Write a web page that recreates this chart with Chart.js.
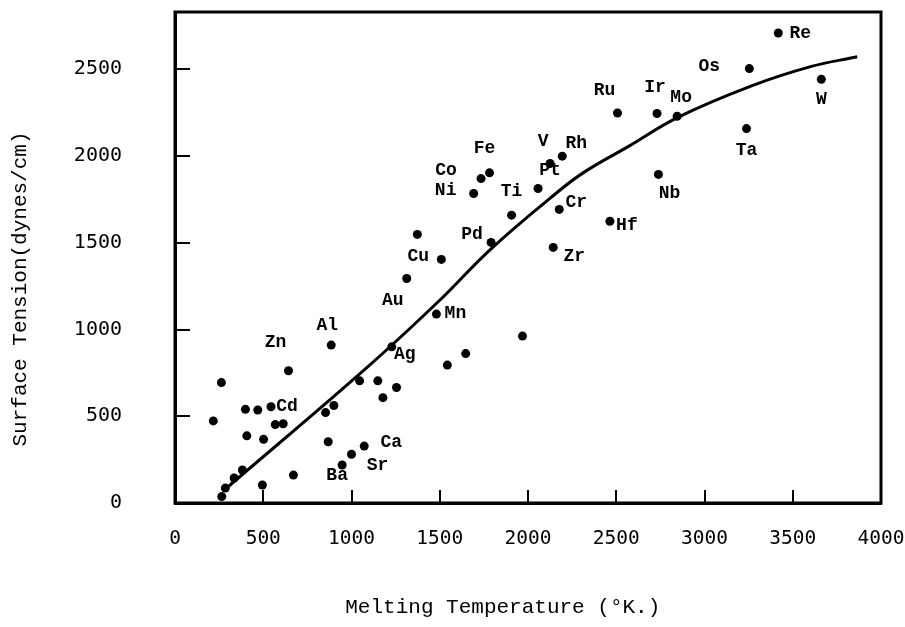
<!DOCTYPE html>
<html>
<head>
<meta charset="utf-8">
<script src="https://cdn.jsdelivr.net/npm/chart.js@4.4.1/dist/chart.umd.min.js"></script>
<style>
  html, body { margin: 0; padding: 0; background: #ffffff; }
  #wrap { width: 905px; height: 627px; position: relative; }
</style>
</head>
<body>
<div id="wrap"><canvas id="chart"></canvas></div>
<script>
// ---- data ----
const elementNames = [
  'Mn','Al','Ag','Zn','','','','Cd','','','','','','','','','','','','','','',
  'Ca','Sr','Ba','','','','','','',
  'Fe','Co','Ni','V','Rh','Pt','Ti','Cr','Hf','Nb','','Pd','Cu','Zr','Au','',
  'Re','Os','W','Ru','Ir','Mo','Ta'
];
const meltingTemps = [
  1481, 885, 1228, 643, 263, 399, 469, 544, 217, 568, 613, 407, 502, 853, 900, 1046, 1149, 1255, 1178, 1543, 1647, 868,
  1072, 1000, 947, 671, 495, 382, 335, 285, 265,
  1782, 1734, 1692, 2125, 2194, 2057, 1907, 2177, 2464, 2739, 1373, 1791, 1509, 2143, 1313, 1969,
  3418, 3254, 3662, 2507, 2731, 2845, 3238
];
const surfaceTensions = [
  1089, 910, 900, 762, 694, 540, 536, 555, 473, 452, 457, 387, 367, 521, 562, 704, 704, 666, 607, 795, 861, 353,
  328, 281, 219, 161, 104, 190, 144, 86, 37,
  1903, 1870, 1784, 1957, 1999, 1813, 1659, 1692, 1624, 1894, 1548, 1502, 1404, 1473, 1294, 962,
  2709, 2504, 2442, 2248, 2245, 2229, 2158
];
const curveTemps    = [292, 1082, 1491, 1794, 2182, 2323, 2567, 2849, 3263, 3601, 3865];
const curveTensions = [ 86,  776, 1160, 1468, 1804, 1910, 2054, 2223, 2403, 2515, 2572];
const xTickValues = [0, 500, 1000, 1500, 2000, 2500, 3000, 3500, 4000];
const yTickValues = [0, 500, 1000, 1500, 2000, 2500];

// ---- label placement (layout only) ----
const labelOffsets = {
  Mn: [19, -1], Al: [-4, -20], Ag: [13, 8], Zn: [-13, -28], Cd: [16, 0],
  Ca: [27, -4], Sr: [26, 11], Ba: [-5, 10], Au: [-14, 22], Cu: [-23, -3],
  Pd: [-19, -8], Ti: [0, -24], Ni: [-28, -3], Co: [-35, -8], Fe: [-5, -24],
  V: [-7, -22], Rh: [14, -13], Pt: [12, -18], Cr: [17, -7], Hf: [17, 4],
  Zr: [21, 9], Nb: [11, 19], Ru: [-13, -23], Ir: [-2, -26], Mo: [4, -19],
  Os: [-40, -2], Re: [22, 0], W: [0, 20], Ta: [0, 22]
};

const pointData = meltingTemps.map((t, i) => ({ x: t, y: surfaceTensions[i] }));
const curveData = curveTemps.map((t, i) => ({ x: t, y: curveTensions[i] }));

const frameAndLabels = {
  id: 'frameAndLabels',
  afterDatasetsDraw(chart) {
    const { ctx, chartArea } = chart;
    ctx.save();
    ctx.strokeStyle = '#000';
    ctx.lineWidth = 3;
    ctx.strokeRect(chartArea.left, chartArea.top, chartArea.right - chartArea.left, chartArea.bottom - chartArea.top);
    const meta = chart.getDatasetMeta(1);
    ctx.fillStyle = '#000';
    ctx.font = 'bold 18px "Liberation Mono", "DejaVu Sans Mono", monospace';
    ctx.textAlign = 'center';
    ctx.textBaseline = 'middle';
    meta.data.forEach((pt, i) => {
      const name = elementNames[i];
      if (!name) return;
      const off = labelOffsets[name] || [0, -18];
      ctx.fillText(name, pt.x + off[0], pt.y + off[1]);
    });
    ctx.restore();
  }
};

new Chart(document.getElementById('chart'), {
  type: 'scatter',
  data: {
    datasets: [
      {
        label: 'trend',
        data: curveData,
        showLine: true,
        borderColor: '#000',
        borderWidth: 3,
        pointRadius: 0,
        tension: 0.4,
        fill: false
      },
      {
        label: 'metals',
        data: pointData,
        pointRadius: 4.5,
        pointBackgroundColor: '#000',
        pointBorderWidth: 0,
        showLine: false
      }
    ]
  },
  options: {
    responsive: true,
    maintainAspectRatio: false,
    animation: false,
    layout: { padding: { top: 12, right: 24, left: 0, bottom: 0 } },
    plugins: { legend: { display: false }, tooltip: { enabled: false } },
    scales: {
      x: {
        type: 'linear',
        min: 0,
        max: 4000,
        afterBuildTicks: (s) => { s.ticks = xTickValues.map(v => ({ value: v })); },
        afterFit: (s) => { s.height = 124; s.paddingLeft = 0; s.paddingRight = 0; },
        ticks: {
          color: '#000',
          font: { family: '"DejaVu Sans Mono", monospace', size: 19.5 },
          padding: 37,
          maxRotation: 0,
          autoSkip: false,
          callback: (v) => String(v)
        },
        grid: { display: true, drawOnChartArea: false, drawTicks: true, tickLength: -13, color: '#000', lineWidth: 2 },
        border: { display: true, color: '#000', width: 3 },
        title: {
          display: true,
          text: 'Melting Temperature (°K.)\u00A0\u00A0\u00A0\u00A0',
          color: '#000',
          font: { family: '"Liberation Mono", monospace', size: 21 },
          padding: { top: 0, bottom: 7 }
        }
      },
      y: {
        type: 'linear',
        min: 0,
        max: 2830,
        afterBuildTicks: (s) => { s.ticks = yTickValues.map(v => ({ value: v })); },
        afterFit: (s) => { s.width = 175; s.paddingTop = 0; s.paddingBottom = 0; },
        ticks: {
          color: '#000',
          font: { family: '"DejaVu Sans Mono", monospace', size: 20 },
          padding: 68,
          autoSkip: false,
          callback: (v) => String(v)
        },
        grid: { display: true, drawOnChartArea: false, drawTicks: true, tickLength: -15, color: '#000', lineWidth: 2 },
        border: { display: true, color: '#000', width: 3 },
        title: {
          display: true,
          text: 'Surface Tension(dynes/cm)\u00A0\u00A0\u00A0\u00A0\u00A0',
          color: '#000',
          font: { family: '"Liberation Mono", monospace', size: 21 },
          padding: { top: 8, bottom: 0 }
        }
      }
    }
  },
  plugins: [frameAndLabels]
});
</script>
</body>
</html>
